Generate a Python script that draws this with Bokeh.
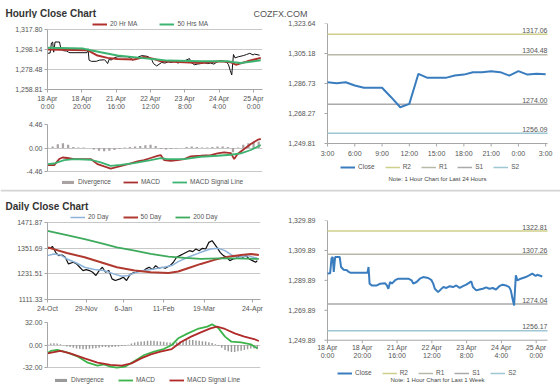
import math
from bokeh.plotting import figure
from bokeh.layouts import column, row
from bokeh.models import Range1d, FixedTicker, Legend, LegendItem, Span
from bokeh.embed import file_html
from bokeh.resources import INLINE
from bokeh.core.properties import value

FONT = "Liberation Sans"
TXT = "#555555"
AX = "#a6a6a6"
GRID = "#c8c8c8"

# ---------------- data ----------------
# hourly data for last week (x = trading hours from 18 Apr 0:00)
week_ticks = [0, 20, 40, 60, 80, 100, 120]
week_tick_labels = ["18 Apr\n0:00", "18 Apr\n20:00", "21 Apr\n16:00", "22 Apr\n12:00",
                    "23 Apr\n8:00", "24 Apr\n4:00", "25 Apr\n0:00"]
close_hours = [0, 1.5, 2.3, 3.0, 3.6, 4.4, 7.0, 7.8, 9.3, 11.2, 12.2, 13.1, 23.0, 23.6, 24.2, 25.5,
               28.4, 30.3, 33.1, 34.1, 35.0, 36.0, 37.0, 38.9, 40.8, 46.5, 48.4, 49.3, 51.2, 53.1,
               55.0, 57.9, 59.8, 60.8, 61.7, 63.6, 66.5, 68.4, 70.3, 72.2, 74.1, 76.0, 77.9, 79.8,
               82.7, 83.6, 85.5, 87.4, 89.3, 91.2, 93.1, 95.0, 96.9, 98.8, 100.7, 102.6, 104.5,
               105.4, 106.4, 107.3, 108.3, 109.2, 111.1, 114.0, 115.9, 117.8, 119.7, 120.6, 123.5]
close_values = [1294.4, 1294.6, 1304.5, 1305.5, 1295.5, 1305.5, 1305.5, 1298.8, 1297.0, 1296.6,
                1295.5, 1295.0, 1295.0, 1298.8, 1287.7, 1286.5, 1286.5, 1287.7, 1288.0, 1286.6,
                1284.3, 1288.8, 1287.7, 1290.0, 1291.0, 1291.0, 1289.9, 1287.7, 1288.8, 1291.0,
                1292.1, 1291.5, 1290.0, 1287.7, 1284.3, 1282.0, 1285.4, 1284.8, 1286.0, 1285.4,
                1286.5, 1284.8, 1286.0, 1287.0, 1289.2, 1285.4, 1283.2, 1283.8, 1284.3, 1285.2,
                1284.3, 1284.8, 1283.8, 1286.0, 1287.0, 1286.5, 1285.4, 1283.2, 1277.6, 1273.1,
                1293.2, 1289.9, 1291.0, 1292.1, 1293.2, 1294.4, 1292.8, 1293.6, 1292.5]
ma20h_hours = [0, 23.3, 26.2, 29.1, 34.9, 40.7, 50.4, 56.2, 62.1, 66.0, 79.6, 89.3, 100.9, 106.8,
               109.7, 116.4, 124.2]
ma20h_values = [1298.1, 1297.5, 1294.8, 1292.2, 1289.9, 1288.8, 1288.2, 1290.8, 1288.8, 1286.5,
                1285.5, 1284.9, 1286.5, 1285.5, 1283.2, 1286.5, 1289.9]
ma50h_hours = [0, 20.9, 25.2, 31.0, 40.7, 54.3, 64.0, 69.9, 89.3, 104.8, 108.7, 112.5, 124.2]
ma50h_values = [1299.8, 1299.0, 1297.5, 1295.5, 1292.2, 1289.9, 1288.2, 1287.2, 1286.5, 1286.5,
                1285.5, 1284.9, 1287.5]
hourly_yticks = [1258.81, 1278.48, 1298.14, 1317.80]

macdh_hours = [0, 3.9, 6.8, 8.7, 11.6, 15.5, 25.2, 29.1, 33.0, 36.8, 40.7, 44.6, 48.5, 52.4, 56.2,
               60.1, 64.0, 65.9, 67.9, 71.8, 75.7, 79.6, 83.4, 89.3, 95.1, 99.0, 102.9, 106.8,
               108.7, 110.7, 114.5, 118.4, 122.3, 124.2]
macdh_values = [-3.25, -3.25, -2.1, -1.8, -1.9, -2.1, -2.1, -3.06, -3.5, -3.9, -3.6, -3.25, -2.9,
                -2.55, -2.3, -1.9, -1.5, -1.34, -2.3, -2.43, -2.3, -2.1, -1.6, -1.47, -1.34, -1.02,
                -0.83, -0.96, -2.1, -1.15, -0.19, 0.77, 1.53, 1.72]
sigh_hours = [0, 3.9, 9.7, 15.5, 25.2, 31.0, 36.8, 42.7, 50.4, 60.1, 65.9, 69.9, 79.6, 89.3, 99.0,
              106.8, 112.6, 118.4, 124.2]
sigh_values = [-3.06, -2.94, -2.3, -2.1, -2.23, -2.74, -3.4, -3.19, -2.87, -2.3, -1.92, -2.1, -2.1,
               -1.66, -1.47, -1.28, -1.02, -0.38, 0.57]
divh_hours = [0, 3, 6, 9, 12, 15, 18, 21, 24, 27, 30, 33, 36, 39, 42, 45, 48, 51, 54, 57, 60, 63,
              66, 69, 72, 75, 78, 81, 84, 87, 90, 93, 96, 99, 102, 105, 108, 111, 114, 117, 120, 123]
divh_values = [0.1, 0.3, 0.7, 0.9, 0.6, 0.2, 0.1, 0.1, 0.0, -0.3, -0.5, -0.6, -0.5, -0.4, -0.2,
               0.1, 0.2, 0.3, 0.4, 0.5, 0.6, 0.4, -0.2, -0.3, -0.2, -0.1, 0.0, 0.2, 0.3, 0.2, 0.1,
               0.1, 0.2, 0.3, 0.3, 0.2, -0.8, 0.1, 0.6, 0.9, 1.1, 1.2]
macdh_yticks = [-4.46, 0.0, 4.46]

# last 24 hours
day_ticks = [0, 3, 6, 9, 12, 15, 18, 21, 24]
day_tick_labels = ["3:00", "6:00", "9:00", "12:00", "15:00", "18:00", "21:00", "0:00", "3:00"]
day_hours = [0, 1, 2, 3, 4, 5, 6, 7, 8, 9, 10, 11, 12, 13, 14, 15, 16, 17, 18, 19, 20, 21, 22, 23, 24]
day_close = [1287.5, 1286.9, 1287.5, 1285.5, 1284.1, 1284.1, 1284.1, 1278.3, 1272.1, 1274.2,
             1292.7, 1290.2, 1290.2, 1290.2, 1291.6, 1292.2, 1293.7, 1293.7, 1294.3, 1293.7,
             1291.6, 1294.3, 1292.2, 1292.7, 1292.4]
day_yticks = [1249.81, 1268.27, 1286.73, 1305.18, 1323.64]
level_names = ["R2", "R1", "S1", "S2"]
day_levels = [1317.06, 1304.48, 1274.00, 1256.09]
week_levels = [1322.81, 1307.26, 1274.04, 1256.17]
week_yticks = [1249.89, 1269.89, 1289.89, 1309.89, 1329.89]

# daily (x = trading day index from 24-Oct)
daily_ticks = [0, 24, 47, 72, 97, 127]
daily_tick_labels = ["24-Oct", "29-Nov", "6-Jan", "11-Feb", "19-Mar", "24-Apr"]
d_days = [0, 1, 2, 3, 4, 5, 7, 9, 11, 13, 16, 18, 20, 22, 24, 26, 28, 30, 32, 34, 36, 38, 40, 42,
          45, 47, 49, 51, 53, 55, 57, 59, 61, 63, 65, 67, 69, 71, 73, 76, 78, 80, 82, 84, 86, 88,
          90, 92, 94, 96, 98, 100, 102, 105, 107, 109, 111, 113, 115, 117, 119, 121, 123, 125,
          127, 129, 130]
d_close = [1347.8, 1355.5, 1350.9, 1360.2, 1347.8, 1332.2, 1316.7, 1319.8, 1309, 1277.9, 1285.6,
           1277.9, 1262.3, 1246.8, 1251.5, 1246.8, 1239.1, 1223.5, 1246.8, 1262.3, 1239.1, 1246.8,
           1208, 1200.2, 1208, 1215.7, 1200.2, 1226.6, 1235.9, 1239.1, 1246.8, 1242.2, 1254.6,
           1262.3, 1251.5, 1270.1, 1257.7, 1262.3, 1257.7, 1270.1, 1285.6, 1309, 1316.7, 1324.5,
           1332.2, 1340, 1335.4, 1347.8, 1340, 1350.9, 1347.8, 1378.8, 1386.6, 1355.5, 1332.2,
           1316.7, 1309, 1293.4, 1301.2, 1304.3, 1316.7, 1309, 1316.7, 1301.2, 1293.4, 1285.6,
           1293.4]
ma20d_days = [0, 4, 8, 12, 17, 23, 29, 35, 41, 46, 50, 54, 60, 66, 72, 77, 81, 87, 95, 101, 106,
              110, 114, 118, 124, 130]
ma20d_values = [1316.7, 1324.5, 1319.8, 1301.2, 1285.6, 1262.3, 1251.5, 1246.8, 1231.3, 1220.4,
                1223.5, 1235.9, 1246.8, 1254.6, 1262.3, 1270.1, 1288.8, 1309, 1332.2, 1347.8,
                1350.9, 1340, 1319.8, 1309, 1316.7, 1304.3]
ma50d_days = [0, 12, 23, 33, 43, 54, 64, 75, 81, 87, 95, 104, 112, 120, 126, 131]
ma50d_values = [1355.5, 1329.1, 1309, 1285.6, 1262.3, 1246.8, 1239.1, 1235.9, 1242.2, 1257.7,
                1277.9, 1298.1, 1312, 1319.8, 1324.5, 1319.8]
ma200d_days = [0, 12, 23, 33, 43, 54, 64, 75, 85, 95, 106, 116, 131]
ma200d_values = [1433.2, 1413, 1394.4, 1375.7, 1355.5, 1340, 1324.5, 1312, 1305.8, 1301.2, 1304.3,
                 1304.3, 1301.2]
daily_yticks = [1111.33, 1231.51, 1351.69, 1471.87]

macdd_days = [0, 2, 6, 12, 19, 25, 31, 35, 39, 43, 48, 54, 60, 66, 72, 77, 81, 87, 93, 99, 102,
              106, 110, 114, 120, 126, 130]
macdd_values = [-11.9, -8.5, -7.1, -10.4, -16.6, -25.1, -29.4, -27.5, -30.8, -32.2, -30.8, -22.8,
                -14.2, -9.5, -5.7, 0, 9.5, 16.6, 22.8, 26.1, 29.4, 23.7, 11.9, 4.7, 3.8, 0.9, -4.7]
sigd_days = [0, 8, 14, 23, 31, 39, 46, 52, 58, 64, 70, 77, 83, 89, 95, 101, 105, 110, 116, 122,
             128, 131]
sigd_values = [-11.9, -8.5, -11.9, -19, -25.1, -28.4, -29.4, -26.1, -19, -13.3, -9.5, -5.7, 4.7,
               11.9, 18, 23.7, 26.1, 22.8, 16.6, 11.9, 8.5, 5.7]
divd_days = [0, 2, 4, 6, 8, 10, 12, 14, 16, 18, 20, 22, 24, 26, 28, 30, 32, 34, 36, 38, 40, 42,
             44, 46, 48, 50, 52, 54, 56, 58, 60, 62, 64, 66, 68, 70, 72, 74, 76, 78, 80, 82, 84,
             86, 88, 90, 92, 94, 96, 98, 100, 102, 104, 106, 108, 110, 112, 114, 116, 118, 120,
             122, 124, 126, 128, 130]
divd_values = [1.5, 2.0, 2.5, 2.0, 1.0, -0.5, -2, -3, -4, -5, -5.5, -6, -6, -5.5, -5, -4.5, -4, -3,
               -3, -3.5, -3, -2.5, -2, -1.5, -1, 0.5, 2, 3.5, 4.5, 5, 5.5, 6, 6, 6, 5.5, 5, 4.5,
               4, 3.5, 3, 4, 5, 6, 7, 7.5, 7, 6.5, 6, 5.5, 5, 4, 3, 1, -1, -4, -7, -9, -10, -10,
               -9, -8, -7, -6, -5, -5, -6]
macdd_yticks = [-32.0, 0.0, 32.0]

# ---------------- helpers ----------------
W = 560
HALF = 280


def ext_range(lo, hi, data_px, above_px=0, below_px=0):
    k = (hi - lo) / data_px
    return Range1d(lo - below_px * k, hi + above_px * k)


def make_fig(h, left, right, top, bottom, xr, yr, xaxis=True, w=HALF):
    p = figure(width=w, height=h, x_range=Range1d(*xr), y_range=yr,
               toolbar_location=None, output_backend="svg", title=None,
               min_border_left=left, min_border_right=right,
               min_border_top=top, min_border_bottom=bottom,
               x_axis_location="below" if xaxis else None)
    p.outline_line_color = None
    p.xgrid.visible = False
    p.ygrid.grid_line_color = GRID
    for ax in p.axis:
        ax.axis_line_color = AX
        ax.major_tick_line_color = AX
        ax.minor_tick_line_color = None
        ax.major_tick_in = 0
        ax.major_tick_out = 3
        ax.major_label_text_font = FONT
        ax.major_label_text_font_size = "7px"
        ax.major_label_text_color = TXT
        ax.major_label_standoff = 2
    return p


def set_yticks(p, ticks, fmt):
    p.yaxis.ticker = FixedTicker(ticks=ticks)
    p.yaxis.major_label_overrides = {t: fmt.format(t) for t in ticks}
    p.yaxis.bounds = (ticks[0], ticks[-1])


def set_xticks(p, ticks, labels):
    p.xaxis.ticker = FixedTicker(ticks=ticks)
    p.xaxis.major_label_overrides = dict(zip(ticks, labels))


def add_legend(p, items, loc, spacing=8):
    lg = Legend(items=items, orientation="horizontal", location=loc,
                label_text_font=FONT, label_text_font_size="6.5px", label_text_color=TXT,
                glyph_width=15, glyph_height=4, label_height=7, label_width=8, label_standoff=3,
                spacing=spacing, padding=1, margin=0, border_line_color=None,
                background_fill_alpha=0)
    p.add_layout(lg)


def header(h, title, brand=None, sep=False):
    p = figure(width=W, height=h, x_range=Range1d(0, W), y_range=Range1d(0, h),
               toolbar_location=None, output_backend="svg", title=None, min_border=0,
               x_axis_location=None, y_axis_location=None)
    p.grid.visible = False
    p.outline_line_color = None
    p.text(x=[5], y=[5], text=[title], text_font=value(FONT), text_font_size="10px",
           text_font_style="bold", text_color="#333333", text_baseline="alphabetic")
    if brand:
        p.text(x=[253], y=[5], text=[brand], text_font=value(FONT), text_font_size="9px",
               text_color="#555555", text_baseline="alphabetic")
    if sep:
        p.add_layout(Span(location=h - 1, dimension="width", line_color="#d4d4d4",
                          line_width=2))
    return p


# ---------------- hourly close chart ----------------
HX = (0, 125.2)
f_tl = make_fig(94, 47, 18, 0, 23, HX,
                ext_range(hourly_yticks[0], hourly_yticks[-1], 60, above_px=11))
set_yticks(f_tl, hourly_yticks, "{:,.2f}")
set_xticks(f_tl, week_ticks, week_tick_labels)
f_tl.line(close_hours, close_values, line_color="#111111", line_width=1)
r20 = f_tl.line(ma20h_hours, ma20h_values, line_color="#b0302c", line_width=2)
r50 = f_tl.line(ma50h_hours, ma50h_values, line_color="#3cb371", line_width=2)
add_legend(f_tl, [LegendItem(label="20 Hr MA", renderers=[r20]),
                  LegendItem(label="50 Hrs MA", renderers=[r50])], (45, 62), spacing=22)

f_tlm = make_fig(77, 47, 18, 12, 1, HX, ext_range(-4.46, 4.46, 47, below_px=17), xaxis=False)
set_yticks(f_tlm, macdh_yticks, "{:.2f}")
rdiv = f_tlm.vbar(x=divh_hours, top=divh_values, bottom=0, width=1.3, fill_color="#a9a2a2",
                  line_color=None)
rm = f_tlm.line(macdh_hours, macdh_values, line_color="#a8302e", line_width=1.8)
rs = f_tlm.line(sigh_hours, sigh_values, line_color="#3cb371", line_width=1.8)
add_legend(f_tlm, [LegendItem(label="Divergence", renderers=[rdiv]),
                   LegendItem(label="MACD", renderers=[rm]),
                   LegendItem(label="MACD Signal Line", renderers=[rs])], (13, 3), spacing=12)

# ---------------- level charts ----------------
LEVEL_COLORS = ["#cfcf8c", "#b8b8a8", "#aaaaaa", "#9fc7d3"]
LEFT_PAD, RIGHT_PAD, DATA_W = 11, 10, 220


def level_chart(h, top, data_px, xr, yticks, levels, xs, ys, ticks, labels, note,
                lab_off, leg_loc, note_off):
    ymin, ymax = yticks[0], yticks[-1]
    k = (xr[1] - xr[0]) / DATA_W
    p = make_fig(h, 36, 3, top, 1, (xr[0] - LEFT_PAD * k, xr[1] + RIGHT_PAD * k),
                 ext_range(ymin, ymax, data_px, below_px=45), xaxis=False)
    p.ygrid.visible = False
    set_yticks(p, yticks, "{:,.2f}")
    p.yaxis.axis_line_color = None
    p.yaxis.major_tick_line_color = None
    p.yaxis.major_tick_out = 0
    p.yaxis.major_label_standoff = 1
    # y axis drawn at the start of the data area
    p.line(x=[xr[0], xr[0]], y=[ymin, ymax], line_color=AX, line_width=1)
    p.ray(x=[xr[0]] * len(yticks), y=yticks, length=3, length_units="screen",
          angle=math.pi, line_color=AX, line_width=1)
    # x axis drawn at the bottom of the data area
    p.line(x=[xr[0], xr[1]], y=[ymin, ymin], line_color=AX, line_width=1)
    p.ray(x=ticks, y=[ymin] * len(ticks), length=3, length_units="screen",
          angle=-math.pi / 2, line_color=AX, line_width=1)
    p.text(x=ticks, y=[ymin] * len(ticks), text=labels, text_align="center",
           text_baseline="top", y_offset=lab_off, text_font=value(FONT), text_font_size="7px",
           text_color=TXT, text_line_height=1.15)
    level_renderers = []
    for name, lv, col in zip(level_names, levels, LEVEL_COLORS):
        r = p.line(x=[xr[0], xr[1]], y=[lv, lv], line_color=col, line_width=1.5)
        level_renderers.append((name, r))
    rc = p.line(xs, ys, line_color="#3a7dbf", line_width=2)
    items = [LegendItem(label="Close", renderers=[rc])]
    for name, r in level_renderers:
        items.append(LegendItem(label=name, renderers=[r]))
    p.text(x=[xr[1]] * len(levels), y=levels, text=["{:.2f}".format(v) for v in levels],
           text_align="right", text_baseline="bottom", y_offset=-1.5,
           text_font=value(FONT), text_font_size="7px", text_color=TXT)
    add_legend(p, items, leg_loc, spacing=10)
    p.text(x=[(xr[0] + xr[1]) / 2], y=[ymin], text=[note], text_align="center",
           text_baseline="middle", y_offset=note_off, text_font=value(FONT),
           text_font_size="6px", text_color="#444444")
    return p


f_tr = level_chart(171, 5, 120, (0, 24.2), day_yticks, day_levels, day_hours, day_close,
                   day_ticks, day_tick_labels, "Note: 1 Hour Chart for Last 24 Hours",
                   6, (24, 18), 35)

# ---------------- daily close chart ----------------
DX = (0, 132)
f_bl = make_fig(103, 47, 20, 0, 15, DX,
                ext_range(daily_yticks[0], daily_yticks[-1], 77, above_px=11))
set_yticks(f_bl, daily_yticks, "{:.2f}")
set_xticks(f_bl, daily_ticks, daily_tick_labels)
f_bl.line(d_days, d_close, line_color="#111111", line_width=1.2)
rd20 = f_bl.line(ma20d_days, ma20d_values, line_color="#8db3da", line_width=1.5)
rd50 = f_bl.line(ma50d_days, ma50d_values, line_color="#b03a30", line_width=2)
rd200 = f_bl.line(ma200d_days, ma200d_values, line_color="#3daa5c", line_width=1.8)
add_legend(f_bl, [LegendItem(label="20 Day", renderers=[rd20]),
                  LegendItem(label="50 Day", renderers=[rd50]),
                  LegendItem(label="200 Day", renderers=[rd200])], (23, 79), spacing=14)

f_blm = make_fig(72, 47, 20, 8, 2, DX, ext_range(-32, 32, 45, below_px=17), xaxis=False)
set_yticks(f_blm, macdd_yticks, "{:.2f}")
rdd = f_blm.vbar(x=divd_days, top=divd_values, bottom=0, width=0.9, fill_color="#9a9a9a",
                 line_color=None)
rmd = f_blm.line(macdd_days, macdd_values, line_color="#3cb44b", line_width=1.8)
rsd = f_blm.line(sigd_days, sigd_values, line_color="#b02a2a", line_width=1.8)
add_legend(f_blm, [LegendItem(label="Divergence", renderers=[rdd]),
                   LegendItem(label="MACD", renderers=[rmd]),
                   LegendItem(label="MACD Signal Line", renderers=[rsd])], (6, 1), spacing=14)

f_br = level_chart(175, 9, 119, (0, 126.5), week_yticks, week_levels, close_hours, close_values,
                   week_ticks, week_tick_labels, "Note: 1 Hour Chart for Last 1 Week",
                   4, (21, 9), 40)

# ---------------- page ----------------
h1 = header(18, "Hourly Close Chart", brand="COZFX.COM")
h2 = header(22, "Daily Close Chart", sep=True)

page = column(h1, row(column(f_tl, f_tlm), f_tr), h2, row(column(f_bl, f_blm), f_br))

open("out.html", "w").write(file_html(page, INLINE))
